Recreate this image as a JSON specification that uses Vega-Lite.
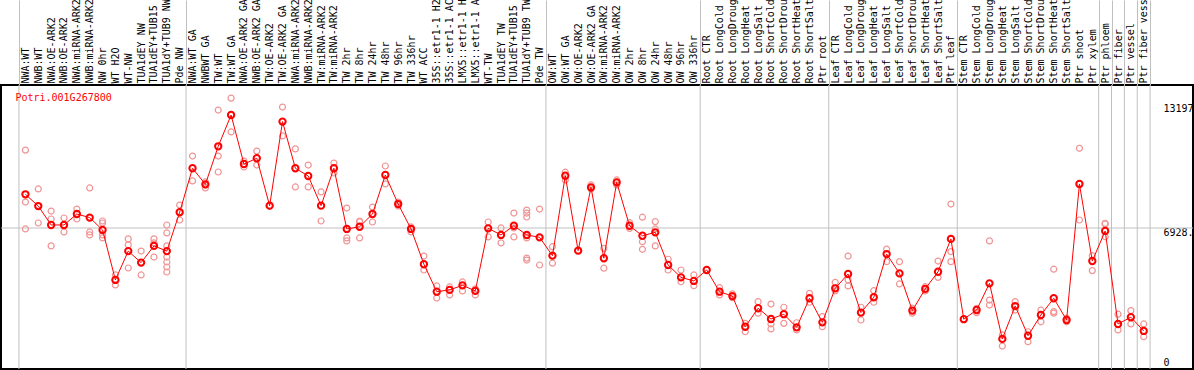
{
  "$schema": "https://vega.github.io/schema/vega-lite/v6.json",
  "width": 1192,
  "height": 284,
  "autosize": {"type": "none"},
  "padding": {"left": 1, "top": 85, "right": 1, "bottom": 1},
  "background": "white",
  "config": {"view": {"stroke": "black", "strokeWidth": 2}, "font": "DejaVu Sans Mono", "scale": {"pointPadding": 0}},
  "datasets": {
    "seps": [{"s": "NWA:WT"}, {"s": "NWA:WT GA"}, {"s": "OW:WT"}, {"s": "Root CTR"}, {"s": "Leaf CTR"}, {"s": "Stem CTR"}, {"s": "Ptr phloem"}, {"s": "Ptr fiber"}, {"s": "Ptr vessel"}, {"s": "Ptr fiber vessel"}, {"s": " "}],
    "means": [
      {"s": "NWA:WT", "v": 8620}, {"s": "NWB:WT", "v": 8030}, {"s": "NWA:OE-ARK2", "v": 7080}, {"s": "NWB:OE-ARK2", "v": 7080},
      {"s": "NWA:miRNA-ARK2", "v": 7630}, {"s": "NWB:miRNA-ARK2", "v": 7450}, {"s": "NW 0hr", "v": 6830}, {"s": "WT H2O", "v": 4320},
      {"s": "WT-NW", "v": 5770}, {"s": "TUA1dEY NW", "v": 5190}, {"s": "TUA1dEY+TUB15 NW", "v": 6030}, {"s": "TUA1dY+TUB9 NW", "v": 5770},
      {"s": "Pde NW", "v": 7720}, {"s": "NWA:WT GA", "v": 9930}, {"s": "NWBWT GA", "v": 9120}, {"s": "TW:WT", "v": 11030},
      {"s": "TW:WT GA", "v": 12600}, {"s": "NWA:OE-ARK2 GA", "v": 10140}, {"s": "NWB:OE-ARK2 GA", "v": 10430}, {"s": "TW:OE-ARK2", "v": 8050},
      {"s": "TW:OE-ARK2 GA", "v": 12270}, {"s": "NWA:miRNA-ARK2 GA", "v": 9930}, {"s": "NWB:miRNA-ARK2 GA", "v": 9540}, {"s": "TW:miRNA-ARK2", "v": 8050},
      {"s": "TW:miRNA-ARK2 GA", "v": 9930}, {"s": "TW 2hr", "v": 6880}, {"s": "TW 8hr", "v": 6990}, {"s": "TW 24hr", "v": 7630},
      {"s": "TW 48hr", "v": 9590}, {"s": "TW 96hr", "v": 8130}, {"s": "TW 336hr", "v": 6880}, {"s": "WT ACC", "v": 5110},
      {"s": "35S::etr1-1 H2O", "v": 3730}, {"s": "35S::etr1-1 ACC", "v": 3820}, {"s": "LMX5::etr1-1 H2O", "v": 4050}, {"s": "LMX5::etr1-1 ACC", "v": 3770},
      {"s": "WT-TW", "v": 6910}, {"s": "TUA1dEY TW", "v": 6580}, {"s": "TUA1dEY+TUB15 TW", "v": 7040}, {"s": "TUA1dY+TUB9 TW", "v": 6580},
      {"s": "Pde TW", "v": 6460}, {"s": "OW:WT", "v": 5540}, {"s": "OW:WT GA", "v": 9550}, {"s": "OW:OE-ARK2", "v": 5790},
      {"s": "OW:OE-ARK2 GA", "v": 8970}, {"s": "OW:miRNA-ARK2", "v": 5410}, {"s": "OW:miRNA-ARK2 GA", "v": 9220}, {"s": "OW 2hr", "v": 7040},
      {"s": "OW 8hr", "v": 6540}, {"s": "OW 24hr", "v": 6710}, {"s": "OW 48hr", "v": 5070}, {"s": "OW 96hr", "v": 4450},
      {"s": "OW 336hr", "v": 4270}, {"s": "Root CTR", "v": 4820}, {"s": "Root LongCold", "v": 3730}, {"s": "Root LongDrought", "v": 3510},
      {"s": "Root LongHeat", "v": 1970}, {"s": "Root LongSalt", "v": 2900}, {"s": "Root ShortCold", "v": 2360}, {"s": "Root ShortDrought", "v": 2600},
      {"s": "Root ShortHeat", "v": 1940}, {"s": "Root ShortSalt", "v": 3400}, {"s": "Ptr root", "v": 2190}, {"s": "Leaf CTR", "v": 3900},
      {"s": "Leaf LongCold", "v": 4620}, {"s": "Leaf LongDrought", "v": 2680}, {"s": "Leaf LongHeat", "v": 3450}, {"s": "Leaf LongSalt", "v": 5620},
      {"s": "Leaf ShortCold", "v": 4650}, {"s": "Leaf ShortDrought", "v": 2780}, {"s": "Leaf ShortHeat", "v": 3870}, {"s": "Leaf ShortSalt", "v": 4730},
      {"s": "Ptr leaf", "v": 6380}, {"s": "Stem CTR", "v": 2350}, {"s": "Stem LongCold", "v": 2810}, {"s": "Stem LongDrought", "v": 4150},
      {"s": "Stem LongHeat", "v": 1360}, {"s": "Stem LongSalt", "v": 3010}, {"s": "Stem ShortCold", "v": 1520}, {"s": "Stem ShortDrought", "v": 2560},
      {"s": "Stem ShortHeat", "v": 3400}, {"s": "Stem ShortSalt", "v": 2310}, {"s": "Ptr shoot", "v": 9140}, {"s": "Ptr xylem", "v": 5270},
      {"s": "Ptr phloem", "v": 6780}, {"s": "Ptr fiber", "v": 2110}, {"s": "Ptr vessel", "v": 2450}, {"s": "Ptr fiber vessel", "v": 1760}
    ],
    "reps": [
      {"s": "NWA:WT", "v": 10840}, {"s": "NWA:WT", "v": 8230}, {"s": "NWA:WT", "v": 6880},
      {"s": "NWB:WT", "v": 8890}, {"s": "NWB:WT", "v": 8030}, {"s": "NWB:WT", "v": 7180},
      {"s": "NWA:OE-ARK2", "v": 7780}, {"s": "NWA:OE-ARK2", "v": 7380}, {"s": "NWA:OE-ARK2", "v": 6030},
      {"s": "NWB:OE-ARK2", "v": 7430}, {"s": "NWB:OE-ARK2", "v": 7080}, {"s": "NWB:OE-ARK2", "v": 6730},
      {"s": "NWA:miRNA-ARK2", "v": 7880}, {"s": "NWA:miRNA-ARK2", "v": 7630}, {"s": "NWA:miRNA-ARK2", "v": 7380},
      {"s": "NWB:miRNA-ARK2", "v": 8940}, {"s": "NWB:miRNA-ARK2", "v": 6730}, {"s": "NWB:miRNA-ARK2", "v": 6580},
      {"s": "NW 0hr", "v": 7280}, {"s": "NW 0hr", "v": 7180}, {"s": "NW 0hr", "v": 6580}, {"s": "NW 0hr", "v": 6430},
      {"s": "WT H2O", "v": 4570}, {"s": "WT H2O", "v": 4070},
      {"s": "WT-NW", "v": 6380}, {"s": "WT-NW", "v": 6080}, {"s": "WT-NW", "v": 4920},
      {"s": "TUA1dEY NW", "v": 5770}, {"s": "TUA1dEY NW", "v": 4570},
      {"s": "TUA1dEY+TUB15 NW", "v": 6380}, {"s": "TUA1dEY+TUB15 NW", "v": 6180}, {"s": "TUA1dEY+TUB15 NW", "v": 5470},
      {"s": "TUA1dY+TUB9 NW", "v": 7080}, {"s": "TUA1dY+TUB9 NW", "v": 6680}, {"s": "TUA1dY+TUB9 NW", "v": 6030}, {"s": "TUA1dY+TUB9 NW", "v": 5470}, {"s": "TUA1dY+TUB9 NW", "v": 5220}, {"s": "TUA1dY+TUB9 NW", "v": 4970}, {"s": "TUA1dY+TUB9 NW", "v": 4720},
      {"s": "Pde NW", "v": 8080}, {"s": "Pde NW", "v": 7730}, {"s": "Pde NW", "v": 7330},
      {"s": "NWA:WT GA", "v": 10540}, {"s": "NWA:WT GA", "v": 9290},
      {"s": "NWBWT GA", "v": 9240}, {"s": "NWBWT GA", "v": 9090}, {"s": "NWBWT GA", "v": 8940},
      {"s": "TW:WT", "v": 12850}, {"s": "TW:WT", "v": 10540}, {"s": "TW:WT", "v": 9740},
      {"s": "TW:WT GA", "v": 13450}, {"s": "TW:WT GA", "v": 12600}, {"s": "TW:WT GA", "v": 11750},
      {"s": "NWA:OE-ARK2 GA", "v": 10290}, {"s": "NWA:OE-ARK2 GA", "v": 10140}, {"s": "NWA:OE-ARK2 GA", "v": 9990},
      {"s": "NWB:OE-ARK2 GA", "v": 10790}, {"s": "NWB:OE-ARK2 GA", "v": 10090},
      {"s": "TW:OE-ARK2", "v": 8030},
      {"s": "TW:OE-ARK2 GA", "v": 13000}, {"s": "TW:OE-ARK2 GA", "v": 11550},
      {"s": "NWA:miRNA-ARK2 GA", "v": 10900}, {"s": "NWA:miRNA-ARK2 GA", "v": 8990},
      {"s": "NWB:miRNA-ARK2 GA", "v": 10090}, {"s": "NWB:miRNA-ARK2 GA", "v": 8990},
      {"s": "TW:miRNA-ARK2", "v": 8740}, {"s": "TW:miRNA-ARK2", "v": 7280},
      {"s": "TW:miRNA-ARK2 GA", "v": 10190}, {"s": "TW:miRNA-ARK2 GA", "v": 9940}, {"s": "TW:miRNA-ARK2 GA", "v": 9690},
      {"s": "TW 2hr", "v": 7930}, {"s": "TW 2hr", "v": 6430}, {"s": "TW 2hr", "v": 6280},
      {"s": "TW 8hr", "v": 7280}, {"s": "TW 8hr", "v": 7230}, {"s": "TW 8hr", "v": 6430},
      {"s": "TW 24hr", "v": 7980}, {"s": "TW 24hr", "v": 7630}, {"s": "TW 24hr", "v": 7230},
      {"s": "TW 48hr", "v": 10040}, {"s": "TW 48hr", "v": 9140},
      {"s": "TW 96hr", "v": 8230}, {"s": "TW 96hr", "v": 8130}, {"s": "TW 96hr", "v": 8030},
      {"s": "TW 336hr", "v": 6980}, {"s": "TW 336hr", "v": 6880}, {"s": "TW 336hr", "v": 6730},
      {"s": "WT ACC", "v": 5520}, {"s": "WT ACC", "v": 4820},
      {"s": "35S::etr1-1 H2O", "v": 4020}, {"s": "35S::etr1-1 H2O", "v": 3410},
      {"s": "35S::etr1-1 ACC", "v": 3970}, {"s": "35S::etr1-1 ACC", "v": 3570},
      {"s": "LMX5::etr1-1 H2O", "v": 4220}, {"s": "LMX5::etr1-1 H2O", "v": 3770},
      {"s": "LMX5::etr1-1 ACC", "v": 3870}, {"s": "LMX5::etr1-1 ACC", "v": 3570},
      {"s": "WT-TW", "v": 7230}, {"s": "WT-TW", "v": 6930}, {"s": "WT-TW", "v": 6480},
      {"s": "TUA1dEY TW", "v": 6930}, {"s": "TUA1dEY TW", "v": 6180},
      {"s": "TUA1dEY+TUB15 TW", "v": 7680}, {"s": "TUA1dEY+TUB15 TW", "v": 6930}, {"s": "TUA1dEY+TUB15 TW", "v": 6480},
      {"s": "TUA1dY+TUB9 TW", "v": 7830}, {"s": "TUA1dY+TUB9 TW", "v": 7680}, {"s": "TUA1dY+TUB9 TW", "v": 7480}, {"s": "TUA1dY+TUB9 TW", "v": 6530}, {"s": "TUA1dY+TUB9 TW", "v": 6430}, {"s": "TUA1dY+TUB9 TW", "v": 5420}, {"s": "TUA1dY+TUB9 TW", "v": 5320},
      {"s": "Pde TW", "v": 7880}, {"s": "Pde TW", "v": 6460}, {"s": "Pde TW", "v": 5070},
      {"s": "OW:WT", "v": 5990}, {"s": "OW:WT", "v": 5540}, {"s": "OW:WT", "v": 5160},
      {"s": "OW:WT GA", "v": 9730}, {"s": "OW:WT GA", "v": 9340},
      {"s": "OW:OE-ARK2", "v": 5790},
      {"s": "OW:OE-ARK2 GA", "v": 9090}, {"s": "OW:OE-ARK2 GA", "v": 8890},
      {"s": "OW:miRNA-ARK2", "v": 5910}, {"s": "OW:miRNA-ARK2", "v": 4910},
      {"s": "OW:miRNA-ARK2 GA", "v": 9340}, {"s": "OW:miRNA-ARK2 GA", "v": 9090},
      {"s": "OW 2hr", "v": 7200}, {"s": "OW 2hr", "v": 6910},
      {"s": "OW 8hr", "v": 7470}, {"s": "OW 8hr", "v": 6240}, {"s": "OW 8hr", "v": 5860},
      {"s": "OW 24hr", "v": 7250}, {"s": "OW 24hr", "v": 6880}, {"s": "OW 24hr", "v": 6030},
      {"s": "OW 48hr", "v": 5360}, {"s": "OW 48hr", "v": 4820},
      {"s": "OW 96hr", "v": 4820}, {"s": "OW 96hr", "v": 4230},
      {"s": "OW 336hr", "v": 4570}, {"s": "OW 336hr", "v": 4030},
      {"s": "Root CTR", "v": 4820},
      {"s": "Root LongCold", "v": 3930}, {"s": "Root LongCold", "v": 3570},
      {"s": "Root LongDrought", "v": 3620}, {"s": "Root LongDrought", "v": 3430},
      {"s": "Root LongHeat", "v": 2140}, {"s": "Root LongHeat", "v": 1720},
      {"s": "Root LongSalt", "v": 3230}, {"s": "Root LongSalt", "v": 2650},
      {"s": "Root ShortCold", "v": 3110}, {"s": "Root ShortCold", "v": 2110}, {"s": "Root ShortCold", "v": 1860},
      {"s": "Root ShortDrought", "v": 2950}, {"s": "Root ShortDrought", "v": 2140},
      {"s": "Root ShortHeat", "v": 2170}, {"s": "Root ShortHeat", "v": 1810},
      {"s": "Root ShortSalt", "v": 3650}, {"s": "Root ShortSalt", "v": 3200},
      {"s": "Ptr root", "v": 2480}, {"s": "Ptr root", "v": 1970},
      {"s": "Leaf CTR", "v": 4200}, {"s": "Leaf CTR", "v": 3770},
      {"s": "Leaf LongCold", "v": 5520}, {"s": "Leaf LongCold", "v": 4320}, {"s": "Leaf LongCold", "v": 4020},
      {"s": "Leaf LongDrought", "v": 2950}, {"s": "Leaf LongDrought", "v": 2310},
      {"s": "Leaf LongHeat", "v": 3780}, {"s": "Leaf LongHeat", "v": 3200},
      {"s": "Leaf LongSalt", "v": 5870}, {"s": "Leaf LongSalt", "v": 5240},
      {"s": "Leaf ShortCold", "v": 5240}, {"s": "Leaf ShortCold", "v": 4120},
      {"s": "Leaf ShortDrought", "v": 2900}, {"s": "Leaf ShortDrought", "v": 2650},
      {"s": "Leaf ShortHeat", "v": 3980}, {"s": "Leaf ShortHeat", "v": 3770},
      {"s": "Leaf ShortSalt", "v": 5270}, {"s": "Leaf ShortSalt", "v": 4450},
      {"s": "Ptr leaf", "v": 8130}, {"s": "Ptr leaf", "v": 5740}, {"s": "Ptr leaf", "v": 5240},
      {"s": "Stem CTR", "v": 2350},
      {"s": "Stem LongCold", "v": 2900}, {"s": "Stem LongCold", "v": 2680},
      {"s": "Stem LongDrought", "v": 6280}, {"s": "Stem LongDrought", "v": 3310}, {"s": "Stem LongDrought", "v": 3060},
      {"s": "Stem LongHeat", "v": 1560}, {"s": "Stem LongHeat", "v": 1000},
      {"s": "Stem LongSalt", "v": 3230}, {"s": "Stem LongSalt", "v": 2810},
      {"s": "Stem ShortCold", "v": 1720}, {"s": "Stem ShortCold", "v": 1220},
      {"s": "Stem ShortDrought", "v": 2810}, {"s": "Stem ShortDrought", "v": 2220},
      {"s": "Stem ShortHeat", "v": 4860}, {"s": "Stem ShortHeat", "v": 2730}, {"s": "Stem ShortHeat", "v": 2650},
      {"s": "Stem ShortSalt", "v": 2400}, {"s": "Stem ShortSalt", "v": 2220},
      {"s": "Ptr shoot", "v": 10930}, {"s": "Ptr shoot", "v": 9140}, {"s": "Ptr shoot", "v": 7330},
      {"s": "Ptr xylem", "v": 5540}, {"s": "Ptr xylem", "v": 4790},
      {"s": "Ptr phloem", "v": 7160}, {"s": "Ptr phloem", "v": 7130}, {"s": "Ptr phloem", "v": 6490},
      {"s": "Ptr fiber", "v": 2600}, {"s": "Ptr fiber", "v": 1810},
      {"s": "Ptr vessel", "v": 2780}, {"s": "Ptr vessel", "v": 2110},
      {"s": "Ptr fiber vessel", "v": 2110}, {"s": "Ptr fiber vessel", "v": 1470}
    ]
  },
  "layer": [
    {
      "data": {"name": "seps"},
      "mark": {"type": "rule", "color": "#c0c0c0", "strokeWidth": 1, "xOffset": -6.5},
      "encoding": {
        "x": {
          "field": "s", "type": "nominal", "sort": null,
          "scale": {
            "domain": ["NWA:WT", "NWB:WT", "NWA:OE-ARK2", "NWB:OE-ARK2", "NWA:miRNA-ARK2", "NWB:miRNA-ARK2", "NW 0hr", "WT H2O", "WT-NW", "TUA1dEY NW", "TUA1dEY+TUB15 NW", "TUA1dY+TUB9 NW", "Pde NW", "NWA:WT GA", "NWBWT GA", "TW:WT", "TW:WT GA", "NWA:OE-ARK2 GA", "NWB:OE-ARK2 GA", "TW:OE-ARK2", "TW:OE-ARK2 GA", "NWA:miRNA-ARK2 GA", "NWB:miRNA-ARK2 GA", "TW:miRNA-ARK2", "TW:miRNA-ARK2 GA", "TW 2hr", "TW 8hr", "TW 24hr", "TW 48hr", "TW 96hr", "TW 336hr", "WT ACC", "35S::etr1-1 H2O", "35S::etr1-1 ACC", "LMX5::etr1-1 H2O", "LMX5::etr1-1 ACC", "WT-TW", "TUA1dEY TW", "TUA1dEY+TUB15 TW", "TUA1dY+TUB9 TW", "Pde TW", "OW:WT", "OW:WT GA", "OW:OE-ARK2", "OW:OE-ARK2 GA", "OW:miRNA-ARK2", "OW:miRNA-ARK2 GA", "OW 2hr", "OW 8hr", "OW 24hr", "OW 48hr", "OW 96hr", "OW 336hr", "Root CTR", "Root LongCold", "Root LongDrought", "Root LongHeat", "Root LongSalt", "Root ShortCold", "Root ShortDrought", "Root ShortHeat", "Root ShortSalt", "Ptr root", "Leaf CTR", "Leaf LongCold", "Leaf LongDrought", "Leaf LongHeat", "Leaf LongSalt", "Leaf ShortCold", "Leaf ShortDrought", "Leaf ShortHeat", "Leaf ShortSalt", "Ptr leaf", "Stem CTR", "Stem LongCold", "Stem LongDrought", "Stem LongHeat", "Stem LongSalt", "Stem ShortCold", "Stem ShortDrought", "Stem ShortHeat", "Stem ShortSalt", "Ptr shoot", "Ptr xylem", "Ptr phloem", "Ptr fiber", "Ptr vessel", "Ptr fiber vessel", " "],
            "range": [18, 1162],
            "padding": 0
          },
          "axis": {
            "orient": "top", "title": null, "domain": false, "grid": false,
            "labelAngle": 270, "labelAlign": "left", "labelBaseline": "middle",
            "labelFont": "DejaVu Sans Mono", "labelFontSize": 10, "labelColor": "black",
            "labelOverlap": false, "labelBound": false, "labelFlush": false, "labelLimit": 200,
            "ticks": true, "tickSize": 85, "tickWidth": 1, "tickOffset": -6.5,
            "labelOffset": 6.5, "labelPadding": -83,
            "tickColor": {"condition": {"test": "indexof(['NWA:WT','NWA:WT GA','OW:WT','Root CTR','Leaf CTR','Stem CTR','Ptr phloem','Ptr fiber','Ptr vessel','Ptr fiber vessel',' '], datum.value) >= 0", "value": "#c0c0c0"}, "value": "rgba(0,0,0,0)"}
          }
        }
      }
    },
    {
      "data": {"values": [{}]},
      "mark": {"type": "rule", "color": "#c0c0c0", "strokeWidth": 1},
      "encoding": {"y": {"datum": 6928.5, "type": "quantitative"}}
    },
    {
      "data": {"name": "reps"},
      "mark": {"type": "point", "shape": "circle", "filled": false, "stroke": "#f09494", "strokeWidth": 1.2, "size": 36, "opacity": 1},
      "encoding": {
        "x": {"field": "s", "type": "nominal", "sort": null},
        "y": {
          "field": "v", "type": "quantitative",
          "scale": {"domain": [-151, 14108], "nice": false, "zero": false},
          "axis": {
            "orient": "right", "offset": -30, "title": null, "values": [0, 6928.5, 13197],
            "labelExpr": "toString(datum.value)",
            "ticks": false, "tickSize": 0, "domain": false, "grid": false, "labelPadding": 0,
            "labelFont": "DejaVu Sans Mono", "labelFontSize": 10, "labelColor": "black", "labelAlign": "left",
            "labelBound": false, "labelFlush": false, "labelOverlap": false,
            "labelBaseline": {"condition": {"test": "datum.value == 0", "value": "alphabetic"}, "value": "top"}
          }
        }
      }
    },
    {
      "data": {"name": "means"},
      "mark": {"type": "line", "color": "#ff0000", "strokeWidth": 1},
      "encoding": {
        "x": {"field": "s", "type": "nominal", "sort": null},
        "y": {"field": "v", "type": "quantitative"},
        "order": {"value": null}
      }
    },
    {
      "data": {"name": "means"},
      "mark": {"type": "point", "shape": "circle", "filled": false, "stroke": "#ff0000", "strokeWidth": 2, "size": 40, "opacity": 1},
      "encoding": {
        "x": {"field": "s", "type": "nominal", "sort": null},
        "y": {"field": "v", "type": "quantitative"}
      }
    },
    {
      "data": {"values": [{"gene": "Potri.001G267800"}]},
      "mark": {"type": "text", "align": "left", "baseline": "alphabetic", "xOffset": -10, "color": "#ff0000", "font": "DejaVu Sans Mono", "fontSize": 10},
      "encoding": {
        "x": {"datum": "NWA:WT", "type": "nominal"},
        "y": {"datum": 13305, "type": "quantitative"},
        "text": {"field": "gene"}
      }
    }
  ]
}
